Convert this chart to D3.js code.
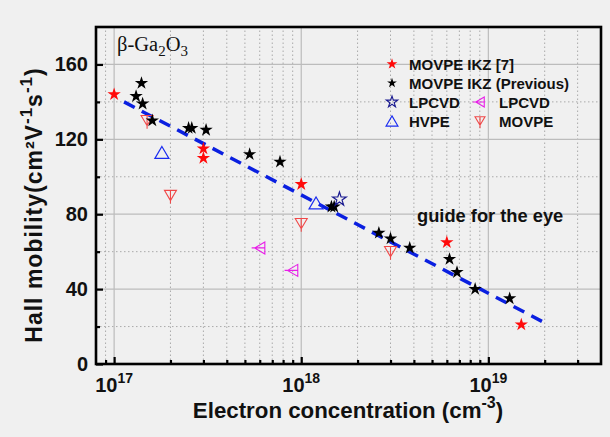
<!DOCTYPE html>
<html>
<head>
<meta charset="utf-8">
<script src="https://cdn.jsdelivr.net/npm/d3@7"></script>
<style>
  body { margin: 0; background: #f0f0f0; }
  svg { display: block; background: #f0f0f0; }
  text { font-family: "Liberation Sans", Arial, sans-serif; font-weight: bold; fill: #111; }
</style>
</head>
<body>
<div id="chart"></div>
<script>
// Data
var ikzX = [1e17, 3e17, 3e17, 1e18, 6e18, 1.5e19]
var ikzY = [144, 115, 110, 96, 65, 21]

var prevX = [1.31e17, 1.4e17, 1.42e17, 1.6e17, 2.5e17, 2.6e17, 3.1e17, 5.3e17, 7.7e17, 1.45e18, 1.5e18, 2.6e18, 3.0e18, 3.8e18, 6.2e18, 6.8e18, 8.5e18, 1.3e19]
var prevY = [143, 150, 139, 130, 126, 126, 125, 112, 108, 84, 84, 70, 67, 62, 56, 49, 40, 35]

var lpcvdStarX = [1.6e18]
var lpcvdStarY = [88]

var hvpeX = [1.8e17, 1.2e18]
var hvpeY = [113, 86]

var lpcvdTriX = [6e17, 9e17]
var lpcvdTriY = [62, 50]

var movpeX = [1.5e17, 2e17, 1e18, 3e18]
var movpeY = [130, 90, 75, 60]

var guideX = [1.13e17, 2e19]
var guideY = [140, 22]

var yTicks = [0, 40, 80, 120, 160]
var yMinor = [20, 60, 100, 140]
var xDecades = [17, 18, 19]

var width = 610
var height = 437
var margin = { top: 27, right: 9, bottom: 73, left: 96 }

var svg = d3.select('#chart')
  .append('svg')
  .attr('width', width)
  .attr('height', height)

var x = d3.scaleLog()
  .domain([8e16, 4e19])
  .range([margin.left, width - margin.right])

var y = d3.scaleLinear()
  .domain([0, 180])
  .range([height - margin.bottom, margin.top])

var x0 = x.range()[0], x1 = x.range()[1]
var y0 = y.range()[0], y1 = y.range()[1]

// minor x ticks 2..9 in each decade within domain
var xMinor = []
for (var e = 16; e <= 19; e++) {
  for (var m = 2; m <= 9; m++) {
    var v = m * Math.pow(10, e)
    if (v > 8e16 && v < 4e19) xMinor.push(v)
  }
}
var xMajor = xDecades.map(function (d) { return Math.pow(10, d) })

// grid
var grid = svg.append('g')
grid.selectAll('.gxm')
  .data(xMinor)
  .enter().append('line')
  .attr('x1', function (d) { return x(d) }).attr('x2', function (d) { return x(d) })
  .attr('y1', y0).attr('y2', y1)
  .attr('stroke', '#aaa').attr('stroke-width', 1).attr('stroke-dasharray', '1.5,2.5')
grid.selectAll('.gym')
  .data(yMinor)
  .enter().append('line')
  .attr('x1', x0).attr('x2', x1)
  .attr('y1', function (d) { return y(d) }).attr('y2', function (d) { return y(d) })
  .attr('stroke', '#aaa').attr('stroke-width', 1).attr('stroke-dasharray', '1.5,2.5')
grid.selectAll('.gxM')
  .data(xMajor)
  .enter().append('line')
  .attr('x1', function (d) { return x(d) }).attr('x2', function (d) { return x(d) })
  .attr('y1', y0).attr('y2', y1)
  .attr('stroke', '#bcbcbc').attr('stroke-width', 1.2)
grid.selectAll('.gyM')
  .data(yTicks.slice(1))
  .enter().append('line')
  .attr('x1', x0).attr('x2', x1)
  .attr('y1', function (d) { return y(d) }).attr('y2', function (d) { return y(d) })
  .attr('stroke', '#bcbcbc').attr('stroke-width', 1.2)

// axes with inward ticks
var xAxisMinor = d3.axisTop(x).tickValues(xMinor).tickSize(4).tickFormat('')
var xAxisMajor = d3.axisTop(x).tickValues(xMajor).tickSize(7).tickFormat('')
var yAxisMinor = d3.axisRight(y).tickValues(yMinor).tickSize(4).tickFormat('')
var yAxisMajor = d3.axisRight(y).tickValues(yTicks).tickSize(7).tickFormat('')

function styleAxis(g) {
  g.select('.domain').remove()
  g.selectAll('line').attr('stroke', '#000').attr('stroke-width', 2.2)
}
svg.append('g').attr('transform', 'translate(0,' + y0 + ')').call(xAxisMinor).call(styleAxis)
svg.append('g').attr('transform', 'translate(0,' + y0 + ')').call(xAxisMajor).call(styleAxis)
svg.append('g').attr('transform', 'translate(' + x0 + ',0)').call(yAxisMinor).call(styleAxis)
svg.append('g').attr('transform', 'translate(' + x0 + ',0)').call(yAxisMajor).call(styleAxis)

// frame
svg.append('rect')
  .attr('x', x0).attr('y', y1)
  .attr('width', x1 - x0).attr('height', y0 - y1)
  .attr('fill', 'none').attr('stroke', '#000').attr('stroke-width', 2.6)

// tick labels
svg.selectAll('.ylab')
  .data(yTicks)
  .enter().append('text')
  .attr('x', x0 - 8)
  .attr('y', function (d) { return y(d) + 7 })
  .attr('text-anchor', 'end')
  .style('font-size', '20px')
  .text(function (d) { return d })

var xl = svg.selectAll('.xlab')
  .data(xDecades)
  .enter().append('text')
  .attr('x', function (d) { return x(Math.pow(10, d)) })
  .attr('y', y0 + 28)
  .attr('text-anchor', 'middle')
  .style('font-size', '20px')
xl.append('tspan').text('10')
xl.append('tspan').attr('dy', -9).style('font-size', '14px').text(function (d) { return d })

// axis titles
var xt = svg.append('text')
  .attr('x', 348)
  .attr('y', 418)
  .attr('text-anchor', 'middle')
  .style('font-size', '22.3px')
xt.append('tspan').text('Electron concentration (cm')
xt.append('tspan').attr('dy', -10).style('font-size', '16px').text('-3')
xt.append('tspan').attr('dy', 10).text(')')

var yt = svg.append('text')
  .attr('transform', 'translate(42,205) rotate(-90)')
  .attr('text-anchor', 'middle')
  .style('font-size', '23px')
  .style('letter-spacing', '1px')
yt.append('tspan').text('Hall mobility(cm\u00b2V')
yt.append('tspan').attr('dy', -10).style('font-size', '17px').text('-1')
yt.append('tspan').attr('dy', 10).text('s')
yt.append('tspan').attr('dy', -10).style('font-size', '17px').text('-1')
yt.append('tspan').attr('dy', 10).text(')')

// beta-Ga2O3 label
var bg = svg.append('text')
  .attr('x', 117).attr('y', 51)
  .style('font-family', '"Liberation Serif", "Times New Roman", serif')
  .style('font-weight', 'normal')
  .style('font-size', '20.5px')
  .attr('fill', '#333')
bg.append('tspan').text('\u03b2-Ga')
bg.append('tspan').attr('dy', 5).style('font-size', '15px').text('2')
bg.append('tspan').attr('dy', -5).text('O')
bg.append('tspan').attr('dy', 5).style('font-size', '15px').text('3')

svg.append('text')
  .attr('x', 417).attr('y', 222)
  .style('font-size', '18.3px')
  .text('guide for the eye')

// guide line
var line = d3.line()
  .x(function (d) { return x(d[0]) })
  .y(function (d) { return y(d[1]) })
svg.append('path')
  .datum(d3.zip(guideX, guideY))
  .attr('d', line)
  .attr('fill', 'none')
  .attr('stroke', '#0a1fe0')
  .attr('stroke-width', 3.5)
  .attr('stroke-dasharray', '12,8')

// marker shapes
var star = d3.symbol().type(d3.symbolStar)
function triStem(s, dir) {
  // triangle pointing in dir with a stem through it, centred on 0,0
  var h = s * 0.85, w = s / 2
  var p
  if (dir === 'down') {
    p = 'M' + (-w) + ',' + (-h / 2) + 'L' + w + ',' + (-h / 2) + 'L0,' + (h / 2) + 'Z' +
      'M0,' + (-h / 2) + 'L0,' + (h / 2 + 3)
  } else {
    p = 'M' + (h / 2) + ',' + (-w) + 'L' + (h / 2) + ',' + w + 'L' + (-h / 2) + ',0Z' +
      'M' + (h / 2) + ',0L' + (-h / 2 - 3) + ',0'
  }
  return p
}
function triUp(s) {
  var h = s * 0.85, w = s / 2
  return 'M0,' + (-h / 2) + 'L' + w + ',' + (h / 2) + 'L' + (-w) + ',' + (h / 2) + 'Z'
}

function plot(xs, ys, path, fill, stroke, sw) {
  svg.append('g').selectAll('path')
    .data(d3.zip(xs, ys))
    .enter().append('path')
    .attr('transform', function (d) { return 'translate(' + x(d[0]) + ',' + y(d[1]) + ')' })
    .attr('d', path)
    .attr('fill', fill)
    .attr('stroke', stroke)
    .attr('stroke-width', sw)
}

plot(movpeX, movpeY, triStem(12, 'down'), 'none', '#f04848', 1.1)
plot(lpcvdTriX, lpcvdTriY, triStem(12, 'left'), 'none', '#e81ee8', 1.1)
plot(hvpeX, hvpeY, triUp(14), 'none', '#1a2cf0', 1.2)
plot(prevX, prevY, star.size(55)(), '#000', 'none', 0)
plot(ikzX, ikzY, star.size(55)(), '#ff0a0a', 'none', 0)
plot(lpcvdStarX, lpcvdStarY, star.size(58)(), 'none', '#1a1a90', 1.2)

// legend
var legRows = [
  { x: 392, y: 64, tx: 409, label: 'MOVPE IKZ [7]', d: star.size(36)(), fill: '#ff0a0a', stroke: 'none' },
  { x: 392, y: 83, tx: 409, label: 'MOVPE IKZ (Previous)', d: star.size(30)(), fill: '#000', stroke: 'none' },
  { x: 392, y: 102, tx: 409, label: 'LPCVD', d: star.size(40)(), fill: 'none', stroke: '#1a1a90' },
  { x: 392, y: 121, tx: 409, label: 'HVPE', d: triUp(12), fill: 'none', stroke: '#1a2cf0' },
  { x: 480, y: 102, tx: 499, label: 'LPCVD', d: triStem(10, 'left'), fill: 'none', stroke: '#e81ee8' },
  { x: 480, y: 121, tx: 499, label: 'MOVPE', d: triStem(10, 'down'), fill: 'none', stroke: '#f04848' }
]
var leg = svg.append('g').attr('id', 'legend')
leg.selectAll('path')
  .data(legRows)
  .enter().append('path')
  .attr('transform', function (d) { return 'translate(' + d.x + ',' + d.y + ')' })
  .attr('d', function (d) { return d.d })
  .attr('fill', function (d) { return d.fill })
  .attr('stroke', function (d) { return d.stroke })
  .attr('stroke-width', 1.1)
leg.selectAll('text')
  .data(legRows)
  .enter().append('text')
  .attr('x', function (d) { return d.tx })
  .attr('y', function (d) { return d.y + 5.5 })
  .style('font-size', '15px')
  .text(function (d) { return d.label })
</script>
</body>
</html>
